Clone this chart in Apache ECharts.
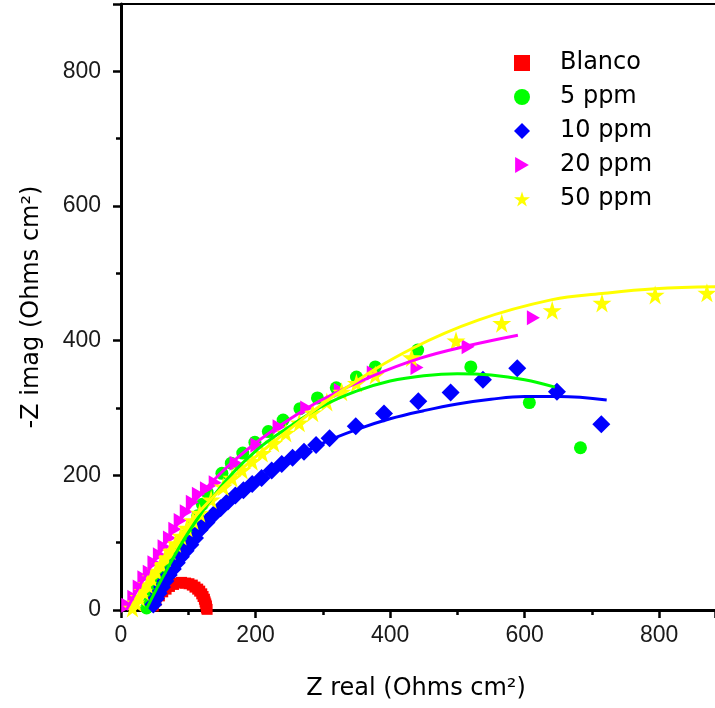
<!DOCTYPE html>
<html>
<head>
<meta charset="utf-8">
<script src="https://cdn.jsdelivr.net/npm/echarts@6/dist/echarts.min.js"></script>
<style>html,body{margin:0;padding:0;background:#fff;overflow:hidden}#c{width:715px;height:708px}</style>
</head>
<body>
<div id="c"></div>
<script>
var seriesNames = ['Blanco', '5 ppm', '10 ppm', '20 ppm', '50 ppm'];
var xTicks = [0, 200, 400, 600, 800];
var yTicks = [0, 200, 400, 600, 800];

var blancoPts = [[48,6],[52,14],[57,21],[62,27],[67,31],[72,35],[78,38],[84,40],[90,41],[96,40],[101,39],[106,37],[110,34],[114,31],[117,28],[120,24],[122,20],[124,16],[125,12],[126,9],[127,6],[127,3],[128,1]];

var ppm5Pts = [[38,3],[41,10],[44,17],[47,24],[50,31],[54,38],[58,45],[62,52],[67,60],[72,68],[78,78],[84,88],[91,100],[98,112],[106,125],[114,140],[121,157],[128,175],[150,203],[164,218],[181,233],[199,249],[219,265],[241,282],[266,299],[292,315],[320,330],[350,346],[378,361],[441,386],[520,361],[607,308],[683,241]];
var ppm5Fit = [[38,2],[60,45],[100,115],[150,185],[200,236],[250,272],[300,303],[350,325],[400,340],[450,348],[500,351],[550,349],[600,342],[645,331]];

var ppm10Pts = [[48,8],[52,17],[56,25],[61,34],[66,43],[71,52],[77,61],[83,70],[89,79],[96,88],[103,97],[110,107],[117,119],[127,130],[137,141],[148,151],[159,161],[170,170],[182,178],[195,187],[209,196],[224,207],[239,217],[255,226],[272,235],[290,245],[310,255],[349,273],[391,292],[442,310],[490,323],[538,342],[589,359],[648,324],[714,276]];
var ppm10Fit = [[45,0],[60,25],[80,55],[100,85],[120,113],[150,148],[200,190],[250,222],[300,248],[350,268],[400,284],[450,296],[500,306],[550,313],[600,317],[650,317],[722,312]];

var ppm20Pts = [[10,7],[19,19],[27,34],[34,48],[42,56],[49,70],[57,82],[64,94],[72,107],[80,120],[88,133],[97,146],[106,160],[115,172],[127,180],[140,189],[171,218],[202,245],[235,272],[276,300],[326,326],[375,352],[440,360],[516,391],[613,434]];
var ppm20Fit = [[8,0],[30,40],[60,90],[100,150],[150,205],[200,248],[250,283],[300,313],[370,346],[445,374],[514,392],[590,408]];

var ppm50Pts = [[17,3],[22,11],[27,19],[33,28],[39,38],[45,48],[52,58],[59,68],[66,78],[73,88],[81,99],[89,110],[98,122],[107,133],[117,144],[134,164],[152,183],[165,196],[180,208],[195,221],[210,233],[227,248],[245,263],[265,278],[285,293],[306,309],[328,324],[350,337],[378,349],[432,375],[498,400],[566,426],[641,445],[715,456],[794,468],[871,471]];
var ppm50Fit = [[15,0],[40,40],[80,100],[120,150],[180,210],[250,268],[330,327],[432,388],[532,431],[641,461],[715,470],[794,477],[883,480]];

var colors = ['#FF0000', '#00FF00', '#0000FF', '#FF00FF', '#FFFF00'];
var starPath = 'path://M50,0 L61,35 L98,35 L68,57 L79,91 L50,70 L21,91 L32,57 L2,35 L39,35 Z';
var triPath = 'path://M0,0 L12,7 L0,14 Z';
var symbols = ['rect', 'circle', 'diamond', triPath, starPath];
var tickFont = '"Liberation Sans", Arial, sans-serif';
var titleFont = '"DejaVu Sans", sans-serif';

function scatter(i, data, size) {
  return {name: seriesNames[i], type: 'scatter', data: data, symbol: symbols[i], symbolSize: size,
    itemStyle: {color: colors[i], opacity: 1}, z: 3};
}
function fit(i, data) {
  return {name: 'fit' + i, type: 'line', data: data, smooth: 0.4, symbol: 'none',
    lineStyle: {color: colors[i], width: 3}, z: 4, silent: true};
}

var chart = echarts.init(document.getElementById('c'), null, {renderer: 'canvas'});
chart.setOption({
  animation: false,
  backgroundColor: '#fff',
  grid: {left: 121, top: 4, right: 0, bottom: 98, containLabel: false},
  legend: {
    data: seriesNames.map(function (n, i) { return {name: n, icon: symbols[i]}; }),
    orient: 'vertical', left: 509, top: 46,
    itemWidth: 16, itemHeight: 16, itemGap: 10,
    textStyle: {fontFamily: titleFont, fontSize: 24, lineHeight: 24, color: '#000', padding: [0, 0, 0, 25]}
  },
  xAxis: [{
    type: 'value', min: 0, max: 883, interval: 200,
    name: 'Z real (Ohms cm²)', nameLocation: 'middle', nameGap: 67,
    nameTextStyle: {fontFamily: titleFont, fontSize: 24, color: '#000', padding: [0, 4, 0, 0]},
    axisLine: {show: true, onZero: false, lineStyle: {color: '#000', width: 3}},
    axisTick: {show: true, inside: false, length: 8, lineStyle: {color: '#000', width: 2.5}},
    minorTick: {show: true, splitNumber: 2, length: 5, lineStyle: {color: '#000', width: 2.5}},
    axisLabel: {fontFamily: tickFont, fontSize: 23, color: '#1a1a1a', margin: 14, showMaxLabel: false,
      formatter: function (v) { return xTicks.indexOf(v) >= 0 ? String(v) : ''; }},
    splitLine: {show: false}
  }, {
    type: 'value', position: 'top', min: 0, max: 883,
    axisLine: {show: true, onZero: false, lineStyle: {color: '#000', width: 2}},
    axisTick: {show: false}, axisLabel: {show: false}, splitLine: {show: false}
  }],
  yAxis: [{
    type: 'value', min: 0, max: 900, interval: 200,
    name: '-Z imag (Ohms cm²)', nameLocation: 'middle', nameGap: 77, nameRotate: 90,
    nameTextStyle: {fontFamily: titleFont, fontSize: 24, color: '#000'},
    axisLine: {show: true, onZero: false, lineStyle: {color: '#000', width: 3}},
    axisTick: {show: true, inside: false, length: 8, lineStyle: {color: '#000', width: 2.5}},
    minorTick: {show: true, splitNumber: 2, length: 5, lineStyle: {color: '#000', width: 2.5}},
    axisLabel: {fontFamily: tickFont, fontSize: 23, color: '#1a1a1a', margin: 20,
      formatter: function (v) { return yTicks.indexOf(v) >= 0 ? String(v) : ''; }},
    splitLine: {show: false}
  }],
  series: [
    scatter(0, blancoPts, 11),
    scatter(1, ppm5Pts, 13),
    fit(1, ppm5Fit),
    scatter(2, ppm10Pts, [18, 18]),
    fit(2, ppm10Fit),
    scatter(3, ppm20Pts, [13, 15]),
    fit(3, ppm20Fit),
    scatter(4, ppm50Pts, 19),
    fit(4, ppm50Fit)
  ]
});
</script>
</body>
</html>
